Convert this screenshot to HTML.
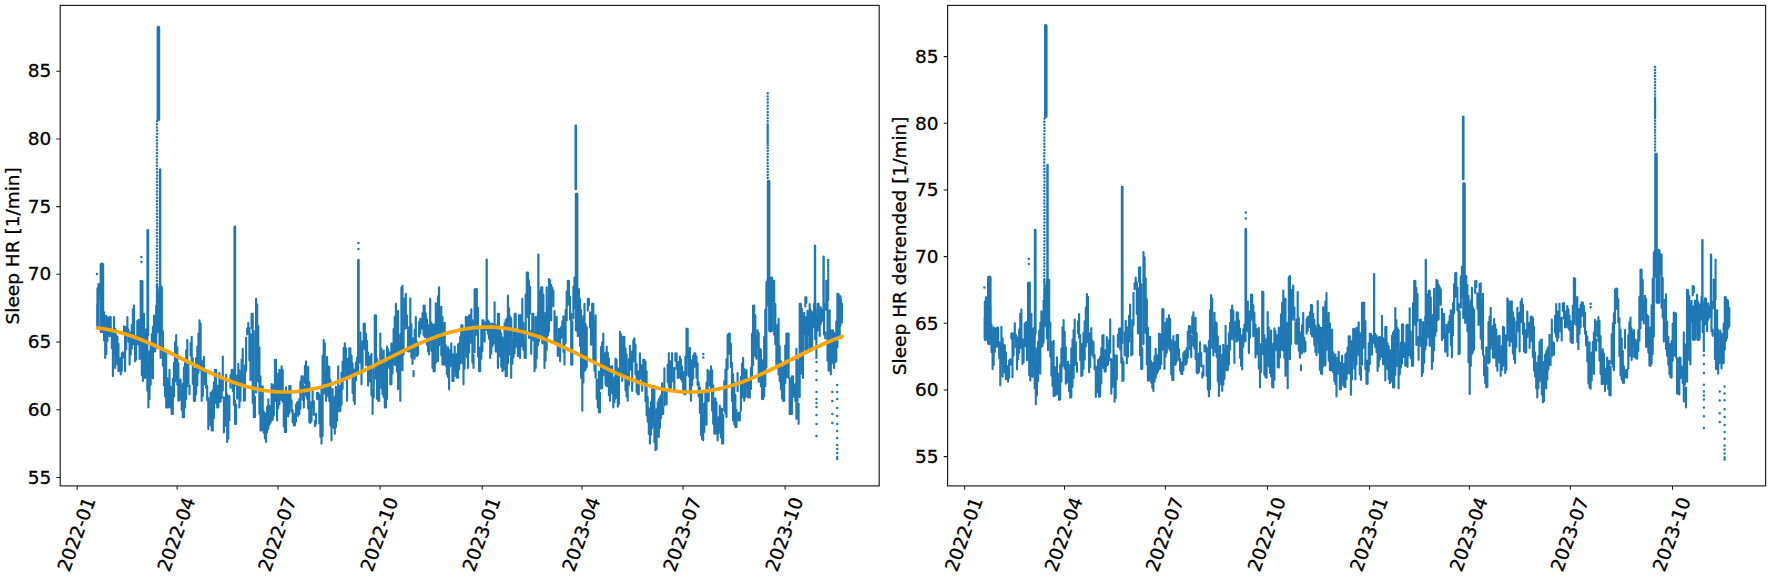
<!DOCTYPE html><html><head><meta charset="utf-8"><title>Sleep HR</title><style>html,body{margin:0;padding:0;background:#fff}svg{display:block}</style></head><body><svg width="1772" height="577" viewBox="0 0 1772 577" font-family="'DejaVu Sans','Liberation Sans',sans-serif" font-size="18.5" fill="#000"><rect width="1772" height="577" fill="#fff"/><g><path d="M97.4 304.5V325.1M98.5 284.1V299.7M99.6 284.4V292.3M100.7 286.2V293.3M101.8 288.1V300.8M102.9 294.7V327.1M104.1 312.4V340.5M105.2 324.2V358M106.3 315.9V354M107.4 318.3V340.9M108.5 317.5V334.3M109.6 317V336.2M110.7 317V334.7M111.8 332.2V348.2M112.9 333.3V376.1M114 317V353.5M115.2 329.1V367.9M116.3 335.4V358.1M117.4 336.7V364.3M118.5 344.1V371.2M119.6 359.4V369.7M120.7 358.1V374.4M121.8 353.2V370.7M122.9 352.4V357.8M124 326.4V331.6M125.1 327.1V371.2M126.2 327V349.5M127.4 317V332.7M128.5 329.5V341.7M129.6 338V364.6M130.7 332.5V354.6M131.8 325V348.4M132.9 309.3V343.9M134 305.5V344.4M135.1 336.1V361.3M136.2 339.7V359.6M137.3 321.1V343.4M138.5 319.8V344.6M139.6 323.1V359M140.7 280.8V340.9M141.8 324V375M142.9 340.4V381M144 313.7V364.9M145.1 334.7V378.1M146.2 329.2V370.3M147.3 329V390.6M148.4 364.4V407.4M149.5 351.2V399.1M150.7 344.8V384.7M151.8 334.3V367.8M152.9 326.7V378.3M154 315.5V351.4M155.1 320.9V351.4M156.2 305.5V348.2M157.3 305.6V332.4M158.4 292.7V330.1M159.5 289.1V345.6M160.6 294.9V358M161.8 287.4V334.2M162.9 331.2V365.6M164 351.4V385.4M165.1 365.9V396.5M166.2 351.3V407.4M167.3 378.3V407.4M168.4 382.3V407.4M169.5 369.7V404.1M170.6 386.7V407.6M171.7 394.1V414M172.8 378.9V414M174 362.8V396.4M175.1 342V381.4M176.2 335.1V376.8M177.3 347.3V384.8M178.4 363.5V400.8M179.5 381.6V400.1M180.6 379.5V396.9M181.7 392.2V409.9M182.8 383.8V417.2M183.9 367.8V417.2M185.1 359.2V407.4M186.2 350.3V398.9M187.3 340V386.3M188.4 363.6V383.2M189.5 385.2V394.2M190.6 343.4V355.7M191.7 336.7V360.7M192.8 358.5V383.8M193.9 369V400.8M195 368.6V400.8M196.1 358V394.3M197.3 346.7V385.6M198.4 333.7V372.7M199.5 320.3V339.1M200.6 323.7V369.9M201.7 360.8V400.8M202.8 372.9V396.1M203.9 356.9V378.8M205 370.7V384.6M206.1 372.6V387.9M207.2 385.9V400.3M208.3 398.1V429.1M209.5 403.1V417.5M210.6 392.9V425.4M211.7 392.4V430.4M212.8 390.2V430.4M213.9 382.2V417.9M215 369.7V392.6M216.1 369.7V403.2M217.2 392.9V407.4M218.3 385.8V407.4M219.4 373.1V402.1M220.6 381.3V401.4M221.7 377V397.9M222.8 356.5V390.4M223.9 397.3V432.5M225 406.7V425.9M226.1 374.8V409.4M227.2 394.5V441.9M228.3 418.2V438.6M229.4 396V420.2M230.5 375.2V387.8M231.6 369.7V381.1M232.8 369.7V390.9M233.9 383.7V405M235 400.6V423.8M236.1 404.7V423.8M237.2 375.4V398.6M238.3 363.8V382M239.4 370.5V407.4M240.5 380V400.8M241.6 359.8V386.2M242.7 348.8V379.4M243.9 375.6V400.8M245 365.5V400.1M246.1 337.7V370.8M247.2 328.5V334.5M248.3 322.9V331.5M249.4 328.3V360.3M250.5 334.2V380.2M251.6 313.7V327.9M252.7 313.7V402.9M253.8 331V417.2M254.9 396.8V417.2M256.1 298.9V392.4M257.2 304.5V360.2M258.3 326.3V381.6M259.4 347.5V413.6M260.5 376.6V430.4M261.6 418.1V430.4M262.7 386.3V427.5M263.8 411.5V432.7M264.9 414.5V438.5M266 413.3V441.9M267.2 406.7V432.3M268.3 399.3V428.8M269.4 405.8V424.8M270.5 408.1V422.8M271.6 384.1V420.5M272.7 384.9V419.7M273.8 392.9V415.6M274.9 359.8V401.3M276 359.8V396.7M277.1 384.9V420.5M278.2 373.8V408.2M279.4 369.7V404.2M280.5 376.9V396.5M281.6 366.4V400M282.7 370.1V401.9M283.8 391.8V426.4M284.9 416.3V432.1M286 387.4V432.1M287.1 395.3V413.9M288.2 393.2V416.6M289.3 386.1V413.3M290.5 386.1V403.8M291.6 400.6V411.4M292.7 410.2V422.3M293.8 414.4V425.5M294.9 413.8V425.5M296 404.5V421.5M297.1 402.6V409.8M298.2 401.9V416M299.3 399.1V414M300.4 381.8V408.7M301.5 376.2V390.4M302.7 376.2V399.8M303.8 385.7V407.4M304.9 366V383M306 361.4V395.6M307.1 379.1V398.3M308.2 366.9V408.6M309.3 382.2V422.2M310.4 417.7V422.9M311.5 402.4V421.1M312.6 390.8V407.1M313.8 401.3V415M314.9 421V426.2M316 413.8V423.8M317.1 392.7V399.2M318.2 392.7V398.1M319.3 394.8V423.5M320.4 398.9V436.7M321.5 387V443.6M322.6 355.9V435.9M323.7 340V375.2M324.8 343.3V393.5M326 372.1V400.8M327.1 357.1V385.5M328.2 366.4V396.5M329.3 367V401.1M330.4 380.1V425.3M331.5 403.5V440.3M332.6 389.1V424.8M333.7 409.2V427.8M334.8 396.8V433.8M335.9 386.7V427.1M337.1 391.5V420.7M338.2 366.4V404.8M339.3 387.4V411.3M340.4 385.9V410.7M341.5 372.8V404.8M342.6 361.8V388.9M343.7 348V377.9M344.8 343.3V368.6M345.9 348.3V377.5M347 365.9V400.8M348.1 358.5V373.4M349.3 348.3V378.3M350.4 348.3V376.2M351.5 355.9V375.5M352.6 363.5V393.1M353.7 369.7V400.8M354.8 369.8V404.1M355.9 362.5V380.5M357 357.7V373.7M358.1 351.8V373.9M359.2 346.6V362.1M360.4 332.5V362.7M361.5 347V384.3M362.6 341.3V368.2M363.7 323.8V345.4M364.8 323.6V349.1M365.9 333.7V365.1M367 340.7V358.6M368.1 352.6V385.6M369.2 356.5V381.1M370.3 356.5V381.3M371.4 353.8V395.3M372.6 390.3V414M373.7 369V397.5M374.8 315.3V366.7M375.9 315.3V378.7M377 358.8V398.8M378.1 368.2V400.8M379.2 361.7V400.8M380.3 333.5V375.9M381.4 348.6V388.1M382.5 357.2V394.2M383.7 350.6V397.2M384.8 366.7V407.4M385.9 362.9V407.4M387 346.6V398.9M388.1 349.3V364.2M389.2 352.3V367.9M390.3 353V384.3M391.4 343.6V384.3M392.5 344.7V373.5M393.6 329.1V355.7M394.7 316.8V364.8M395.9 303.8V364.9M397 311.3V371.8M398.1 311.1V389.3M399.2 343.2V378.9M400.3 334.4V400.8M401.4 287.7V361.3M402.5 285.7V370.3M403.6 329.6V354.5M404.7 298.6V329M405.8 293.9V324.6M407 315.6V328.4M408.1 330.3V351.4M409.2 327V351.4M410.3 298.4V345.4M411.4 324.4V357.5M412.5 338.2V364M413.6 371V376.2M414.7 329.9V358.7M415.8 317V345M416.9 341.6V356M418 345.5V354.7M419.2 321.9V336.6M420.3 318.9V333.3M421.4 319.5V328.6M422.5 313.4V328.4M423.6 305.5V334.9M424.7 305.5V336.9M425.8 313.6V336.5M426.9 319.2V344.8M428 324.9V351.4M429.1 328.5V354.4M430.2 298.9V341M431.4 322.5V350.8M432.5 325V367.9M433.6 324.6V371.2M434.7 324.8V371.2M435.8 303.2V363M436.9 313.7V330.7M438 296.4V361.3M439.1 287.4V345.4M440.2 312.4V337.9M441.3 306.9V355.3M442.5 317.2V364.6M443.6 327.5V364.6M444.7 322.7V363.8M445.8 345.6V365.7M446.9 351V374.2M448 347.2V377M449.1 356.4V389.3M450.2 349.8V366.2M451.3 343.3V357.6M452.4 354V381M453.5 355V381M454.7 346.6V370.7M455.8 356.6V375.9M456.9 354.1V377.7M458 344.5V377.7M459.1 343.2V369.4M460.2 336.9V363.4M461.3 325.2V338.2M462.4 325.2V363.1M463.5 341V384.3M464.6 329.5V368.4M465.8 317V348.8M466.9 317V357.2M468 319.3V367.9M469.1 315.3V352.5M470.2 315.3V336.2M471.3 309.4V342.8M472.4 320.3V362.5M473.5 354.7V367.9M474.6 289.5V352.2M475.7 289V335.2M476.8 289V333.3M478 307.9V356.4M479.1 347.6V371.2M480.2 347.9V371.2M481.3 329.9V358.7M482.4 320.3V350.9M483.5 320.3V328.1M484.6 322.8V341.4M485.7 322.4V327.6M486.8 321.2V329.9M487.9 320.3V333.6M489.1 322.1V338.7M490.2 334.6V358M491.3 323.7V353.5M492.4 323.6V346.5M493.5 325.2V343.8M494.6 302.2V336.7M495.7 325.1V351.4M496.8 329.4V351.4M497.9 313.7V367.9M499 313.7V343.4M500.1 330.1V356.6M501.3 333.5V366.7M502.4 337.6V371.2M503.5 343.2V369.7M504.6 323.3V353M505.7 320.1V376.1M506.8 318.6V376.1M507.9 295.6V363.4M509 308.2V354.9M510.1 316.3V334.9M511.2 318.5V377.7M512.4 340.9V363.7M513.5 331.9V357.1M514.6 313.7V353.2M515.7 313.7V347M516.8 332.9V345.8M517.9 337.2V356.2M519 315.4V343.3M520.1 315.1V358M521.2 316.3V346.4M522.3 298.9V343.3M523.4 322.9V349.9M524.6 341.5V358M525.7 294.5V358M526.8 272.5V314.9M527.9 272.5V317.3M529 280.2V338M530.1 286.8V313.7M531.2 330.7V353.8M532.3 313.7V334.3M533.4 313.7V340.4M534.5 333.3V371.2M535.7 316.9V368M536.8 323.8V358.5M537.9 312.4V345.4M539 305V341.3M540.1 290.7V320.5M541.2 287.4V334.5M542.3 287.4V343.5M543.4 294.8V329.5M544.5 317.1V367.9M545.6 313.1V360.6M546.7 287.4V349.7M547.9 307.7V335.3M549 279.1V331.5M550.1 280.4V320.5M551.2 285V320.2M552.3 287.7V298.7M553.4 290.7V306.3M554.5 311V342.5M555.6 317V337M556.7 317V341.6M557.8 338.6V355.9M559 328.8V354.4M560.1 331.2V361.3M561.2 327.1V337.7M562.3 321.4V329M563.4 316.3V351.8M564.5 324V364.6M565.6 310V343M566.7 291.5V320.5M567.8 280.8V305.1M568.9 280.8V302.1M570 296.5V319.6M571.2 313.7V364.6M572.3 321.5V364.6M573.4 286.9V318.5M574.5 277.5V308.2M575.6 277.5V301M576.7 285.4V313.6M577.8 290.9V336.2M578.9 289.1V334.7M580 298.8V345.9M581.1 310.1V377.8M582.3 320.6V410.7M583.4 316.2V382.6M584.5 303.8V371M585.6 324.2V369.7M586.7 327.1V367.5M587.8 298.9V310.6M588.9 298.9V305.2M590 312.3V327.6M591.1 313.6V344.8M592.2 303.8V342.2M593.3 303.8V360M594.5 321.2V370.7M595.6 315.4V377.5M596.7 379.2V398.8M597.8 391.3V407.2M598.9 371.6V412.3M600 392.8V412.3M601.1 346.8V388.8M602.2 342.2V388M603.3 333.5V375.4M604.4 355V371.5M605.6 352.8V384.8M606.7 346.6V386.2M607.8 352.7V384.8M608.9 358.3V395.2M610 378.9V400.8M611.1 366.4V388.5M612.2 366.4V393.4M613.3 381.7V407.4M614.4 377.6V402.2M615.5 358.6V398.6M616.6 359.9V397.1M617.8 368.3V406.7M618.9 369.4V404.1M620 331.8V374.6M621.1 334.6V364.6M622.2 345.8V381M623.3 336.7V376.2M624.4 336.7V377.7M625.5 348.4V390.3M626.6 354.4V396.5M627.7 373.6V400.8M628.9 359.4V385M630 345.7V362M631.1 354.6V370.2M632.2 351.6V390.9M633.3 340.6V361.5M634.4 338.4V359.3M635.5 344.7V374.5M636.6 363.9V392.1M637.7 372.8V394.2M638.8 371.3V394.2M639.9 353.2V379.1M641.1 365V374.3M642.2 367.4V390.9M643.3 359.8V384.6M644.4 359.8V381.7M645.5 361.7V401.2M646.6 371.2V415.2M647.7 397.4V421.7M648.8 408.2V434M649.9 418.1V443.6M651 402.3V434.7M652.1 388.4V428.1M653.3 386.1V425.2M654.4 386.1V442M655.5 423V450.2M656.6 409.2V449.2M657.7 402.6V421M658.8 399.5V437M659.9 397.4V428M661 395.4V418.2M662.1 383.2V414M663.2 407.3V414M664.4 368.2V405.5M665.5 391.1V396.3M666.6 392.5V404.4M667.7 364.9V382.1M668.8 353.2V386.4M669.9 361.4V391M671 361.5V387.6M672.1 353.2V367.9M673.2 369.2V381.6M674.3 367.7V390.9M675.4 353.2V361M676.6 353.2V369M677.7 365.8V378.1M678.8 361.9V377.7M679.9 356.5V373.7M681 359.9V379.2M682.1 366.5V381.6M683.2 372.1V392.7M684.3 379.8V394.2M685.4 356.7V394.2M686.5 328.5V375.1M687.7 329.1V357.2M688.8 351.3V376.3M689.9 347.8V393.5M691 369.9V400.8M692.1 360V385.3M693.2 355.8V378.4M694.3 353.2V367M695.4 353.2V365M696.5 356.8V377.7M697.6 363.3V384.9M698.7 382.5V396.5M699.9 387.5V413M701 404.3V435M702.1 393.2V439.1M703.2 416V440.3M704.3 403.5V431.9M705.4 392.5V413.3M706.5 382.7V424.8M707.6 369.7V400.9M708.7 389.6V400.8M709.8 371.2V385.7M711 366.4V390.9M712.1 370.4V410.5M713.2 385.6V423.8M714.3 403.5V433.7M715.4 398.4V433.7M716.5 402.6V432.8M717.6 424.2V440.3M718.7 417.3V433.1M719.8 405.9V428.3M720.9 411.1V437.4M722 408.5V443.4M723.2 415V443.6M724.3 381.1V410.7M725.4 369.7V413.5M726.5 359.3V417.1M727.6 335.1V369.4M728.7 333.5V353.5M729.8 333.5V354.1M730.9 343.7V367.1M732 362.7V401M733.1 374V420.3M734.3 382.5V424.3M735.4 395V427.1M736.5 410V427.1M737.6 373V391.2M738.7 413V420.5M739.8 412.3V420.5M740.9 377.1V410.7M742 363.8V397.6M743.1 358.1V372.9M744.2 369V400.8M745.3 373V397.3M746.5 369.7V386.6M747.6 378.5V396.7M748.7 381.5V397.5M749.8 378.7V397.5M750.9 368.1V389.1M752 333.8V378.3M753.1 305.5V365.1M754.2 305.5V340.4M755.3 315.3V355.9M756.4 336.2V358.8M757.6 330.2V345.6M758.7 333.1V381.8M759.8 348.8V379.9M760.9 349.9V386.2M762 371.2V399.1M763.1 360.1V399.1M764.2 337V396.4M765.3 309.7V386M766.4 282.3V367.5M767.5 279.8V302.2M768.6 278.7V306.1M769.8 280.9V304.4M770.9 277.5V294.2M772 277.5V295.6M773.1 280.8V300.7M774.2 280.8V334.7M775.3 304V344.2M776.4 340.1V367.9M777.5 325V359.3M778.6 318.8V374.4M779.7 346.4V380.8M780.9 361V389.2M782 368.3V398.4M783.1 367.4V400.8M784.2 363.6V400.8M785.3 345.5V383.3M786.4 333.5V377.3M787.5 333.5V343M788.6 333.5V377.7M789.7 378.3V414M790.8 398.6V414M791.9 376.4V414M793.1 376.2V396.8M794.2 384.8V394.6M795.3 384.2V400.8M796.4 348.7V418.8M797.5 360.2V401.3M798.6 403.5V423.8M799.7 303.8V397.1M800.8 303.8V359.4M801.9 308.9V373.8M803 317.4V377.9M804.2 312.8V333.9M805.3 297.2V306.5M806.4 297.2V302.8M807.5 310.9V330.7M808.6 318.5V334.9M809.7 304V331.9M810.8 310.4V331.5M811.9 322V344.8M813 312V327.6M814.1 303.8V324.8M815.2 308.5V339.2M816.4 316.6V358M817.5 303.8V330.6M818.6 303.8V326.7M819.7 318.1V336M820.8 307.3V324M821.9 310.8V321.2M823 309.7V314.9M824.1 303.8V334.4M825.2 332.2V338.3M826.3 280.8V310M827.5 280.8V360.8M828.6 340.3V370.7M829.7 310.3V370.1M830.8 330V374.4M831.9 349.8V363.4M833 330.2V351.5M834.1 332.7V367.9M835.2 339.3V362.2M836.3 321.6V361.2M837.4 293.9V347.3M838.5 293.9V337.9M839.7 305.3V334.8M840.8 300V310.3M841.9 303.5V322.4" fill="none" stroke="#1f77b4" stroke-width="2.15" stroke-linecap="round"/><path d="M158.4 27.6V119.5" stroke="#1f77b4" stroke-width="3.6" stroke-linecap="round"/><path d="M160.1 169.6V290" stroke="#1f77b4" stroke-width="2.5" stroke-linecap="round"/><path d="M160.4 286.8V330" stroke="#1f77b4" stroke-width="3.6" stroke-linecap="round"/><path d="M147.8 230.4V335" stroke="#1f77b4" stroke-width="2.8" stroke-linecap="round"/><path d="M142.2 281.3V330" stroke="#1f77b4" stroke-width="2.6" stroke-linecap="round"/><path d="M234.8 226.9V385" stroke="#1f77b4" stroke-width="2.8" stroke-linecap="round"/><path d="M358.4 260.2V350" stroke="#1f77b4" stroke-width="2.7" stroke-linecap="round"/><path d="M575.8 125.9V189" stroke="#1f77b4" stroke-width="2.7" stroke-linecap="round"/><path d="M576.6 194.3V330" stroke="#1f77b4" stroke-width="3.6" stroke-linecap="round"/><path d="M768.6 181.5V282" stroke="#1f77b4" stroke-width="3.6" stroke-linecap="round"/><path d="M770.6 281.5V330" stroke="#1f77b4" stroke-width="5.0" stroke-linecap="round"/><path d="M815 245.8V320" stroke="#1f77b4" stroke-width="2.4" stroke-linecap="round"/><path d="M823.6 256.7V320" stroke="#1f77b4" stroke-width="2.4" stroke-linecap="round"/><path d="M98 288.6V327" stroke="#1f77b4" stroke-width="3.2" stroke-linecap="round"/><path d="M101.9 264.8V331" stroke="#1f77b4" stroke-width="4.6" stroke-linecap="round"/><path d="M486.7 259.6V320" stroke="#1f77b4" stroke-width="2.3" stroke-linecap="round"/><path d="M538.4 254.7V315" stroke="#1f77b4" stroke-width="2.3" stroke-linecap="round"/><path d="M806.5 318.2V350" stroke="#1f77b4" stroke-width="4.5" stroke-linecap="round"/><path d="M811 316.2V348" stroke="#1f77b4" stroke-width="4.5" stroke-linecap="round"/><path d="M839.8 296.8V325" stroke="#1f77b4" stroke-width="3.6" stroke-linecap="round"/><path d="M157.1 121h0M156.9 124.2h0M156.9 127.4h0M157.1 130.6h0M157.1 133.8h0M156.9 137h0M157 140.2h0M157 143.4h0M156.9 146.6h0M157 149.8h0M157 153h0M156.9 156.2h0M156.9 159.4h0M156.9 162.6h0M156.9 165.8h0M156.9 169h0M157 172.2h0M157.1 175.4h0M156.9 178.6h0M157.1 181.8h0M157.1 185h0M157 188.2h0M157 191.4h0M156.9 194.6h0M157.1 197.8h0M157 201h0M156.9 204.2h0M156.9 207.4h0M157.1 210.6h0M157 213.8h0M157.1 217h0M156.9 220.2h0M157.1 223.4h0M157.1 226.6h0M156.9 229.8h0M157 233h0M156.9 236.2h0M157.1 239.4h0M157.1 242.6h0M157.1 245.8h0M156.9 249h0M156.9 252.2h0M157 255.4h0M157 258.6h0M156.9 261.8h0M156.9 265h0M157 268.2h0M156.9 271.4h0M157 274.6h0M156.9 277.8h0M156.9 281h0M157 284.2h0M157 287.4h0M157.1 290.6h0M156.9 293.8h0M157.1 297h0M156.9 285h0M156.9 286.6h0M157.1 288.2h0M157.1 289.8h0M157 291.4h0M157.2 293h0M156.9 294.6h0M156.9 296.2h0M157.1 297.8h0M156.9 299.4h0M156.9 301h0M156.9 302.6h0M157.1 304.2h0M157.1 305.8h0M157.1 307.4h0M157.2 309h0M157.1 310.6h0M156.9 312.2h0M156.9 313.8h0M157.1 315.4h0M156.8 317h0M157 318.6h0M156.8 320.2h0M156.8 321.8h0M157 323.4h0M156.9 325h0M157.2 326.6h0M157.2 328.2h0M157 329.8h0M141.4 257h0M141.4 262h0M358.4 243h0M358.4 249h0M97 274h0M767.7 93.3h0M767.7 96.4h0M767.7 99.5h0M767.7 102.6h0M767.7 105.7h0M767.7 108.8h0M767.7 111.9h0M767.7 115h0M767.7 118.1h0M767.7 121.2h0M767.7 124.3h0M767.7 126h0M767.7 127.6h0M767.7 129.2h0M767.7 130.8h0M767.7 132.4h0M767.7 134h0M767.7 135.6h0M767.7 137.2h0M767.7 138.8h0M767.7 140.4h0M767.7 142h0M767.7 143.6h0M767.7 145.2h0M767.7 148h0M767.7 151h0M767.7 154h0M767.7 157h0M767.7 160h0M767.7 163h0M767.7 166h0M767.7 169h0M767.7 172h0M767.7 175h0M767.7 178h0M828.2 260h0M828.2 262.2h0M828.2 264.4h0M828.2 266.6h0M828.2 268.8h0M828.2 271h0M828.2 273.2h0M828.2 275.4h0M828.2 277.6h0M828.2 279.8h0M828.2 282h0M828.2 284.2h0M828.2 286.4h0M828.2 288.6h0M828.2 290.8h0M828.2 293h0M828.2 295.2h0M828.2 297.4h0M828.2 299.6h0M816.5 362h0M816.5 371h0M816.5 380h0M816.5 392h0M816.5 399h0M816.5 403h0M816.5 407h0M816.5 415h0M816.5 424h0M816.5 436h0M837.2 385h0M837.2 392h0M837.2 399h0M837.2 408h0M837.2 416h0M837.2 424h0M837.2 431h0M837.2 438h0M837.2 445h0M837.2 449h0M837.2 453h0M837.2 457h0M837.2 459h0M832.3 392h0M832.3 401h0M832.3 414h0M832.3 423h0M703.3 354h0M703.3 357.5h0" stroke="#1f77b4" stroke-width="2.5" stroke-linecap="round" fill="none"/><path d="M97.4 328L100.4 328.3L103.4 328.8L106.4 329.3L109.4 329.9L112.4 330.6L115.4 331.3L118.4 332L121.4 332.9L124.4 333.8L127.4 334.7L130.4 335.7L133.4 336.8L136.4 337.9L139.4 339L142.4 340.2L145.4 341.5L148.4 342.7L151.4 344L154.4 345.4L157.4 346.8L160.4 348.2L163.4 349.6L166.4 351L169.4 352.5L172.4 354L175.4 355.5L178.4 357L181.4 358.5L184.4 360L187.4 361.5L190.4 363L193.4 364.5L196.4 366L199.4 367.5L202.4 368.9L205.4 370.4L208.4 371.8L211.4 373.2L214.4 374.5L217.4 375.9L220.4 377.1L223.4 378.4L226.4 379.6L229.4 380.8L232.4 381.9L235.4 383L238.4 384L241.4 385L244.4 385.9L247.4 386.7L250.4 387.5L253.4 388.3L256.4 388.9L259.4 389.6L262.4 390.1L265.4 390.6L268.4 391L271.4 391.3L274.4 391.6L277.4 391.8L280.4 392L283.4 392L286.4 392L289.4 392L292.4 391.8L295.4 391.6L298.4 391.3L301.4 391L304.4 390.6L307.4 390.1L310.4 389.5L313.4 388.9L316.4 388.2L319.4 387.5L322.4 386.7L325.4 385.8L328.4 384.9L331.4 383.9L334.4 382.9L337.4 381.8L340.4 380.7L343.4 379.5L346.4 378.3L349.4 377.1L352.4 375.8L355.4 374.4L358.4 373.1L361.4 371.7L364.4 370.3L367.4 368.8L370.4 367.4L373.4 365.9L376.4 364.4L379.4 362.9L382.4 361.4L385.4 359.9L388.4 358.4L391.4 356.9L394.4 355.4L397.4 353.9L400.4 352.4L403.4 350.9L406.4 349.5L409.4 348.1L412.4 346.7L415.4 345.3L418.4 343.9L421.4 342.6L424.4 341.4L427.4 340.1L430.4 338.9L433.4 337.8L436.4 336.7L439.4 335.6L442.4 334.7L445.4 333.7L448.4 332.8L451.4 332L454.4 331.2L457.4 330.5L460.4 329.9L463.4 329.3L466.4 328.8L469.4 328.3L472.4 327.9L475.4 327.6L478.4 327.4L481.4 327.2L484.4 327.1L487.4 327.1L490.4 327.1L493.4 327.2L496.4 327.4L499.4 327.6L502.4 327.9L505.4 328.3L508.4 328.8L511.4 329.3L514.4 329.9L517.4 330.5L520.4 331.2L523.4 332L526.4 332.8L529.4 333.7L532.4 334.7L535.4 335.6L538.4 336.7L541.4 337.8L544.4 338.9L547.4 340.1L550.4 341.4L553.4 342.6L556.4 343.9L559.4 345.3L562.4 346.7L565.4 348.1L568.4 349.5L571.4 350.9L574.4 352.4L577.4 353.9L580.4 355.4L583.4 356.9L586.4 358.4L589.4 359.9L592.4 361.4L595.4 362.9L598.4 364.4L601.4 365.9L604.4 367.4L607.4 368.8L610.4 370.3L613.4 371.7L616.4 373.1L619.4 374.4L622.4 375.8L625.4 377.1L628.4 378.3L631.4 379.5L634.4 380.7L637.4 381.8L640.4 382.9L643.4 383.9L646.4 384.9L649.4 385.8L652.4 386.7L655.4 387.5L658.4 388.2L661.4 388.9L664.4 389.5L667.4 390.1L670.4 390.6L673.4 391L676.4 391.3L679.4 391.6L682.4 391.8L685.4 392L688.4 392L691.4 392L694.4 392L697.4 391.8L700.4 391.6L703.4 391.3L706.4 391L709.4 390.6L712.4 390.1L715.4 389.6L718.4 388.9L721.4 388.3L724.4 387.5L727.4 386.7L730.4 385.9L733.4 385L736.4 384L739.4 383L742.4 381.9L745.4 380.8L748.4 379.6L751.4 378.4L754.4 377.1L757.4 375.9L760.4 374.5L763.4 373.2L766.4 371.8L769.4 370.4L772.4 368.9L775.4 367.5L778.4 366L781.4 364.5L784.4 363L787.4 361.5L790.4 360L793.4 358.5L796.4 357L799.4 355.5L802.4 354L805.4 352.5L808.4 351L811.4 349.6L814.4 348.2L817.4 346.8L820.4 345.4L823.4 344L826.4 342.7L829.4 341.5L832.4 340.2L835.4 339L838.4 337.9L841.4 336.8L842.2 336.5" fill="none" stroke="#ffa500" stroke-width="3.7" stroke-linecap="round" stroke-linejoin="round"/></g><g><path d="M984.8 317.5V337.8M985.9 297.3V312.6M987 297.4V305.2M988.1 299.1V306.1M989.2 300.7V313.3M990.3 307.1V339M991.5 324.3V352M992.6 335.7V369.1M993.7 327.4V365M994.8 329.6V351.8M995.9 328.6V345.1M997 327.8V346.8M998.1 327.6V345.1M999.2 342.3V358.1M1000.3 343.2V385.3M1001.4 326.9V362.8M1002.6 338.5V376.7M1003.7 344.5V366.8M1004.8 345.5V372.6M1005.9 352.5V379.2M1007 367.3V377.4M1008.1 365.7V381.7M1009.2 360.5V377.7M1010.3 359.3V364.7M1011.4 333.4V338.5M1012.5 333.8V377.2M1013.6 333.4V355.5M1014.8 323.2V338.7M1015.9 335.1V347.2M1017 343.1V369.3M1018.1 337.3V359.1M1019.2 329.6V352.6M1020.3 313.7V347.8M1021.4 309.6V347.9M1022.5 339.4V364.1M1023.6 342.5V362M1024.7 323.8V345.6M1025.9 322V346.5M1027 324.9V360.2M1028.1 282.8V342M1029.2 324.9V375.1M1030.3 340.6V380.6M1031.4 313.8V364.3M1032.5 334.1V376.8M1033.6 328.2V368.7M1034.7 327.5V388.2M1035.8 361.9V404.2M1036.9 348.4V395.6M1038.1 341.7V381M1039.2 330.9V363.8M1040.3 322.9V373.7M1041.4 311.4V346.7M1042.5 316.2V346.2M1043.6 300.5V342.6M1044.7 300.1V326.5M1045.8 286.9V323.7M1046.9 282.9V338.5M1048 288V350.2M1049.2 280.1V326.2M1050.3 322.7V356.7M1051.4 342.1V375.6M1052.5 355.9V386M1053.6 340.9V396.2M1054.7 367V395.6M1055.8 370.4V395.1M1056.9 357.4V391.4M1058 373.6V394.3M1059.1 380.4V400M1060.2 364.9V399.4M1061.4 348.5V381.6M1062.5 327.5V366.3M1063.6 320.1V361.2M1064.7 331.7V368.5M1065.8 347V383.7M1066.9 364.3V382.5M1068 361.7V378.8M1069.1 373.7V391.1M1070.2 364.8V397.7M1071.3 348.5V397.2M1072.5 339.5V387M1073.6 330.2V378.1M1074.7 319.5V365.1M1075.8 342.2V361.5M1076.9 362.9V371.8M1078 321.2V333.3M1079.1 314.1V337.7M1080.2 335V359.9M1081.3 344.7V376.1M1082.4 343.8V375.5M1083.5 332.8V368.6M1084.7 321.2V359.4M1085.8 307.9V346.3M1086.9 294.1V312.6M1088 296.9V342.4M1089.1 333V372.3M1090.2 344.3V367.2M1091.3 328V349.6M1092.4 341.1V354.8M1093.5 342.4V357.5M1094.6 355.1V369.2M1095.8 366.5V397M1096.9 370.9V385.1M1098 360.4V392.4M1099.1 359.4V396.8M1100.2 356.7V396.3M1101.3 348.4V383.5M1102.4 335.5V358.2M1103.5 335.1V368.1M1104.6 357.4V371.7M1105.7 350V371.2M1106.8 337V365.6M1108 344.6V364.5M1109.1 340V360.5M1110.2 319.3V352.7M1111.3 359V393.7M1112.4 367.8V386.8M1113.5 336V370.1M1114.6 354.9V401.7M1115.7 377.9V398M1116.8 355.6V379.4M1117.9 334.7V347.1M1119 328.8V340.1M1120.2 328.4V349.4M1121.3 341.9V362.8M1122.4 358.1V381M1123.5 361.8V380.6M1124.6 332.5V355.4M1125.7 320.7V338.6M1126.8 327V363.4M1127.9 336V356.5M1129 315.7V341.7M1130.1 304.6V334.7M1131.3 330.6V355.4M1132.4 320.3V354.4M1133.5 292.7V325.3M1134.6 283.3V289.2M1135.7 277.5V286M1136.8 282.5V314M1137.9 288.1V333.4M1139 267.6V281.6M1140.1 267.3V355.2M1141.2 284.1V369M1142.3 348.6V368.8M1143.5 252V344.1M1144.6 257.3V312.1M1145.7 278.5V332.9M1146.8 299.2V364.3M1147.9 327.7V380.6M1149 368.3V380.4M1150.1 336.8V377.3M1151.2 361.4V382.3M1152.3 364.3V387.8M1153.4 362.9V391.1M1154.6 356.2V381.5M1155.7 348.8V377.9M1156.8 355V373.8M1157.9 357.2V371.6M1159 333.5V369.3M1160.1 334.1V368.4M1161.2 341.9V364.2M1162.3 309.2V350M1163.4 309.1V345.5M1164.5 333.8V368.9M1165.6 322.8V356.7M1166.8 318.7V352.7M1167.9 325.7V345.1M1169 315.4V348.5M1170.1 319V350.3M1171.2 340.3V374.4M1172.3 364.5V380M1173.4 336V380M1174.5 343.8V362.2M1175.6 341.8V364.8M1176.7 334.8V361.6M1177.9 334.9V352.3M1179 349.2V359.9M1180.1 358.7V370.7M1181.2 363V373.8M1182.3 362.4V373.9M1183.4 353.4V370.1M1184.5 351.6V358.6M1185.6 351V364.9M1186.7 348.4V363M1187.8 331.5V357.9M1188.9 326.1V340M1190.1 326.3V349.5M1191.2 335.7V357.1M1192.3 316.5V333.2M1193.4 312.2V345.8M1194.5 329.8V348.6M1195.6 317.9V359M1196.7 333.2V372.6M1197.8 368.4V373.5M1198.9 353.5V372M1200 342.3V358.3M1201.2 352.9V366.4M1202.3 372.5V377.6M1203.4 365.6V375.6M1204.5 345.2V351.6M1205.6 345.4V350.8M1206.7 347.8V376M1207.8 352.1V389.3M1208.9 340.7V396.4M1210 310.3V389.2M1211.1 295V329.7M1212.2 298.6V348M1213.4 327.2V355.5M1214.5 312.8V340.8M1215.6 322.3V352M1216.7 323.2V356.8M1217.8 336.5V381.1M1218.9 359.9V396.1M1220 346.1V381.3M1221.1 366.2V384.5M1222.2 354.5V390.9M1223.3 344.9V384.7M1224.5 350V378.8M1225.6 325.7V363.5M1226.7 346.7V370.3M1227.8 345.7V370.1M1228.9 333.3V364.7M1230 322.9V349.5M1231.1 309.7V339.1M1232.2 305.5V330.4M1233.3 310.8V339.6M1234.4 328.6V363M1235.5 321.8V336.5M1236.7 312.2V341.7M1237.8 312.6V340.2M1238.9 320.6V339.9M1240 328.6V357.7M1241.1 335.2V365.8M1242.2 335.7V369.5M1243.3 329V346.8M1244.4 324.9V340.6M1245.5 319.5V341.3M1246.6 314.9V330.2M1247.8 301.6V331.3M1248.9 316.3V353.1M1250 311.2V337.7M1251.1 294.5V315.7M1252.2 294.8V319.9M1253.3 305.3V336.2M1254.4 312.7V330.3M1255.5 324.9V357.4M1256.6 329.3V353.5M1257.7 329.8V354.3M1258.8 327.7V368.6M1260 364.2V387.5M1261.1 343.7V371.8M1262.2 291.5V342M1263.3 292V354.4M1264.4 335.3V374.7M1265.5 345.2V377.2M1266.6 339.3V377.8M1267.7 312V353.8M1268.8 327.5V366.4M1269.9 336.5V372.9M1271.1 330.5V376.4M1272.2 347V387M1273.3 343.8V387.6M1274.4 328.3V379.8M1275.5 331.4V346.1M1276.6 335V350.3M1277.7 336.2V367.1M1278.8 327.5V367.6M1279.9 329.2V357.5M1281 314.3V340.6M1282.1 302.8V350M1283.3 290.5V350.7M1284.4 298.5V358M1285.5 298.8V375.8M1286.6 331V366.1M1287.7 322.9V388.2M1288.8 277.4V349.9M1289.9 275.9V359.2M1291 319.6V344.2M1292.1 289.7V319.6M1293.2 285.6V315.8M1294.4 307.5V320.1M1295.5 322.5V343.3M1296.6 319.8V343.8M1297.7 292.1V338.4M1298.8 318.2V350.8M1299.9 332.3V357.7M1301 365.2V370.3M1302.1 325.2V353.5M1303.2 312.9V340.5M1304.3 337.7V351.8M1305.4 341.9V351M1306.6 319.2V333.7M1307.7 316.7V330.9M1308.8 317.8V326.7M1309.9 312.3V327M1311 304.9V333.9M1312.1 305.4V336.3M1313.2 313.8V336.4M1314.3 319.8V345M1315.4 325.8V351.9M1316.5 329.9V355.3M1317.7 301.1V342.6M1318.8 324.7V352.6M1319.9 327.6V369.9M1321 327.7V373.5M1322.1 328.3V373.9M1323.2 307.4V366.3M1324.3 318.1V334.8M1325.4 301.5V365.4M1326.5 293V350.1M1327.6 318V343.1M1328.7 312.9V360.6M1329.9 323.5V370.1M1331 334V370.4M1332.1 329.6V370M1333.2 352.4V372.2M1334.3 358.1V381M1335.4 354.6V384M1336.5 364V396.4M1337.6 357.9V374M1338.7 351.7V365.8M1339.8 362.5V389.2M1340.9 363.8V389.4M1342.1 355.8V379.5M1343.2 365.9V384.9M1344.3 363.7V387M1345.4 354.5V387.2M1346.5 353.4V379.3M1347.6 347.5V373.6M1348.7 336.2V349M1349.8 336.4V373.8M1350.9 352.2V394.8M1352 341V379.4M1353.2 328.9V360.2M1354.3 329.1V368.6M1355.4 331.5V379.3M1356.5 327.8V364.4M1357.6 327.9V348.5M1358.7 322.2V355.1M1359.8 333.1V374.6M1360.9 367V380M1362 303V364.7M1363.1 302.6V348.1M1364.2 302.7V346.3M1365.4 321.4V369.2M1366.5 360.5V383.8M1367.6 361V383.8M1368.7 343.2V371.6M1369.8 333.8V364M1370.9 333.9V341.5M1372 336.4V354.7M1373.1 336V341.1M1374.2 334.9V343.4M1375.3 333.9V347.1M1376.5 335.7V352M1377.6 348V371M1378.7 337.2V366.6M1379.8 337.1V359.6M1380.9 338.7V356.9M1382 315.9V349.9M1383.1 338.4V364.3M1384.2 342.6V364.2M1385.3 327V380.4M1386.4 326.9V356.1M1387.5 343V369.1M1388.7 346.2V378.9M1389.8 350.1V383.2M1390.9 355.5V381.6M1392 335.8V365M1393.1 332.5V387.6M1394.2 330.8V387.5M1395.3 308V374.8M1396.4 320.3V366.2M1397.5 328V346.4M1398.6 330V388.4M1399.8 351.9V374.3M1400.9 342.8V367.6M1402 324.6V363.5M1403.1 324.4V357.2M1404.2 343.1V355.8M1405.3 347.1V365.8M1406.4 325.4V352.9M1407.5 324.8V367M1408.6 325.8V355.4M1409.7 308.3V352M1410.8 331.6V358.2M1412 349.7V365.9M1413.1 303.1V365.6M1414.2 281.1V322.9M1415.3 280.8V324.8M1416.4 288.1V344.9M1417.5 294.2V320.7M1418.6 337.1V359.8M1419.7 320V340.3M1420.8 319.6V345.9M1421.9 338.6V375.9M1423.1 322V372.4M1424.2 328.5V362.7M1425.3 316.8V349.4M1426.4 309.2V345M1427.5 294.7V324.1M1428.6 291V337.5M1429.7 290.6V345.8M1430.8 297.5V331.7M1431.9 319V369M1433 314.7V361.4M1434.1 288.9V350.3M1435.3 308.5V335.7M1436.4 279.9V331.5M1437.5 280.7V320.2M1438.6 284.7V319.5M1439.7 287V297.8M1440.8 289.5V304.8M1441.9 308.9V340M1443 314.4V334.1M1444.1 313.9V338.2M1445.2 334.7V351.7M1446.4 324.6V349.8M1447.5 326.4V356.1M1448.6 321.8V332.3M1449.7 315.8V323.3M1450.8 310.3V345.2M1451.9 317.3V357.3M1453 303V335.5M1454.1 284.3V312.9M1455.2 273.2V297.1M1456.3 272.7V293.7M1457.4 287.6V310.3M1458.6 304V354.1M1459.7 311.2V353.6M1460.8 276.6V307.7M1461.9 266.8V297.1M1463 266.2V289.4M1464.1 273.5V301.3M1465.2 278.4V323M1466.3 276V320.9M1467.4 285V331.4M1468.5 295.7V362.3M1469.7 305.5V394.1M1470.8 300.5V365.9M1471.9 287.8V354M1473 307.3V352.1M1474.1 309.7V349.4M1475.2 281.3V292.9M1476.3 280.8V287M1477.4 293.4V308.5M1478.5 294.2V324.9M1479.6 284V321.8M1480.7 283.4V338.7M1481.9 300V348.7M1483 293.7V354.8M1484.1 356V375.3M1485.2 367.3V383.1M1486.3 347.4V387.5M1487.4 367.8V387M1488.5 322V363.3M1489.6 316.9V362M1490.7 307.7V349M1491.8 328.4V344.7M1493 325.7V357.2M1494.1 319.1V358M1495.2 324.6V356.2M1496.3 329.5V365.9M1497.4 349.3V370.8M1498.5 336.4V358.2M1499.6 335.9V362.5M1500.7 350.5V375.8M1501.8 346V370.2M1502.9 326.8V366.1M1504 327.5V364.2M1505.2 335.3V373.1M1506.3 335.8V370M1507.4 298.4V340.5M1508.5 300.6V330.2M1509.6 311.2V345.9M1510.7 301.8V340.7M1511.8 301.3V341.7M1512.9 312.3V353.6M1514 317.8V359.2M1515.1 336.2V363M1516.3 321.8V347M1517.4 307.8V323.9M1518.5 316.2V331.5M1519.6 312.8V351.5M1520.7 301.6V322.2M1521.8 298.9V319.5M1522.9 304.7V334.1M1524 323.2V351M1525.1 331.6V352.7M1526.2 329.8V352.3M1527.3 311.5V337M1528.5 322.7V331.9M1529.6 324.7V347.9M1530.7 316.9V341.3M1531.8 316.5V338.1M1532.9 318V356.9M1534 327V370.4M1535.1 352.5V376.5M1536.2 362.8V388.2M1537.3 372.2V397.3M1538.4 356.3V388.3M1539.5 342.3V381.5M1540.7 339.8V378.3M1541.8 339.5V394.6M1542.9 375.6V402.3M1544 361.7V401.1M1545.1 354.9V373.1M1546.2 351.6V388.5M1547.3 349.3V379.4M1548.4 347.1V369.6M1549.5 334.8V365.1M1550.6 358.4V364.9M1551.8 319.6V356.3M1552.9 342V347.1M1554 343.1V354.9M1555.1 315.7V332.7M1556.2 304.1V336.7M1557.3 311.9V341.1M1558.4 311.9V337.6M1559.5 303.6V318M1560.6 319.2V331.4M1561.7 317.6V340.4M1562.8 303.2V310.8M1564 303V318.6M1565.1 315.3V327.5M1566.2 311.4V327M1567.3 306V323M1568.4 309.2V328.2M1569.5 315.7V330.5M1570.6 321.2V341.4M1571.7 328.7V342.8M1572.8 305.9V342.8M1573.9 278.1V323.9M1575.1 278.7V306.3M1576.2 300.5V325.1M1577.3 297V342M1578.4 318.8V349.2M1579.5 309.1V334M1580.6 305V327.2M1581.7 302.4V316M1582.8 302.5V314.1M1583.9 306.1V326.7M1585 312.5V333.8M1586.1 331.5V345.3M1587.3 336.5V361.6M1588.4 353.1V383.3M1589.5 342.3V387.5M1590.6 364.8V388.8M1591.7 352.6V380.6M1592.8 342V362.4M1593.9 332.5V373.9M1595 319.7V350.5M1596.1 339.5V350.5M1597.2 321.5V335.9M1598.4 317V341.1M1599.5 321.1V360.6M1600.6 336.3V373.9M1601.7 354.1V383.9M1602.8 349.3V384.1M1603.9 353.6V383.4M1605 375.1V391M1606.1 368.6V384.2M1607.2 357.6V379.6M1608.3 363V388.9M1609.4 360.7V395M1610.6 367.3V395.5M1611.7 334.3V363.4M1612.8 323.3V366.5M1613.9 313.3V370.3M1615 289.8V323.6M1616.1 288.5V308.3M1617.2 288.8V309.2M1618.3 299.2V322.2M1619.4 318.3V356M1620.5 329.7V375.3M1621.7 338.5V379.6M1622.8 351.1V382.7M1623.9 366.2V383.1M1625 330.1V348.1M1626.1 370V377.4M1627.2 369.6V377.7M1628.3 335.3V368.4M1629.4 322.6V355.9M1630.5 317.5V332.1M1631.6 328.6V359.9M1632.7 333V356.8M1633.9 330.1V346.7M1635 339.2V357.2M1636.1 342.6V358.3M1637.2 340.2V358.8M1638.3 330.2V350.9M1639.4 296.9V340.7M1640.5 269.5V328.2M1641.6 269.9V304.3M1642.7 280.1V320.1M1643.8 301.1V323.4M1645 295.7V310.9M1646.1 299V347M1647.2 315V345.6M1648.3 316.6V352.3M1649.4 338V365.5M1650.5 327.6V366M1651.6 305.3V363.8M1652.7 278.9V354.1M1653.8 252.5V336.4M1654.9 250.5V272.6M1656 249.9V276.9M1657.2 252.7V275.8M1658.3 249.8V266.2M1659.4 250.3V268.2M1660.5 254.2V273.7M1661.6 254.6V307.8M1662.7 278V317.6M1663.8 314.1V341.5M1664.9 299.8V333.6M1666 294.2V349M1667.1 321.9V355.8M1668.3 336.9V364.6M1669.4 344.6V374.2M1670.5 344.3V377.1M1671.6 341V377.7M1672.7 323.8V361M1673.8 312.5V355.7M1674.9 313V322.4M1676 313.6V357.2M1677.1 358.3V393.4M1678.2 378.8V393.9M1679.3 357.5V394.5M1680.5 357.9V378.1M1681.6 366.9V376.6M1682.7 366.8V383.2M1683.8 332.4V401.5M1684.9 344.3V384.8M1686 387.5V407.5M1687.1 289.9V381.7M1688.2 290.4V345.2M1689.3 296V359.9M1690.4 304.9V364.4M1691.6 300.9V321.7M1692.7 286.1V295.3M1693.8 286.6V292.1M1694.9 300.6V320.1M1696 308.6V324.8M1697.1 294.9V322.4M1698.2 301.7V322.5M1699.3 313.7V336.2M1700.4 304.3V319.7M1701.5 296.8V317.5M1702.6 301.9V332.1M1703.8 310.4V351.2M1704.9 298.4V324.7M1706 298.9V321.4M1707.1 313.5V331.1M1708.2 303.3V319.7M1709.3 307.2V317.5M1710.4 306.6V311.7M1711.5 301.3V331.4M1712.6 329.8V335.8M1713.7 279.6V308.4M1714.9 280V358.9M1716 339.2V369M1717.1 310V368.9M1718.2 329.9V373.7M1719.3 349.8V363.2M1720.4 330.9V351.9M1721.5 333.9V368.5M1722.6 340.8V363.3M1723.7 323.8V362.8M1724.8 297V349.6M1725.9 297.4V340.7M1727.1 309V338.1M1728.2 304.1V314.4M1729.3 308V326.6" fill="none" stroke="#1f77b4" stroke-width="2.15" stroke-linecap="round"/><path d="M1045.8 25.9V116.4" stroke="#1f77b4" stroke-width="3.6" stroke-linecap="round"/><path d="M1047.5 164.9V283.5" stroke="#1f77b4" stroke-width="2.5" stroke-linecap="round"/><path d="M1047.8 280.2V322.7" stroke="#1f77b4" stroke-width="3.6" stroke-linecap="round"/><path d="M1035.2 230.2V333.2" stroke="#1f77b4" stroke-width="2.8" stroke-linecap="round"/><path d="M1029.6 282.7V330.6" stroke="#1f77b4" stroke-width="2.6" stroke-linecap="round"/><path d="M1122.2 187.1V342.8" stroke="#1f77b4" stroke-width="2.8" stroke-linecap="round"/><path d="M1245.8 229.4V317.9" stroke="#1f77b4" stroke-width="2.7" stroke-linecap="round"/><path d="M1463.2 116.9V179" stroke="#1f77b4" stroke-width="2.7" stroke-linecap="round"/><path d="M1464 183.8V317.5" stroke="#1f77b4" stroke-width="3.6" stroke-linecap="round"/><path d="M1656 154.2V253.2" stroke="#1f77b4" stroke-width="3.6" stroke-linecap="round"/><path d="M1658 253.6V301.4" stroke="#1f77b4" stroke-width="5.0" stroke-linecap="round"/><path d="M1702.4 240.1V313.1" stroke="#1f77b4" stroke-width="2.4" stroke-linecap="round"/><path d="M1711 254.7V317" stroke="#1f77b4" stroke-width="2.4" stroke-linecap="round"/><path d="M985.4 301.8V339.6" stroke="#1f77b4" stroke-width="3.2" stroke-linecap="round"/><path d="M989.3 277.8V343" stroke="#1f77b4" stroke-width="4.6" stroke-linecap="round"/><path d="M1374.1 274.2V333.7" stroke="#1f77b4" stroke-width="2.3" stroke-linecap="round"/><path d="M1425.8 259.8V319.2" stroke="#1f77b4" stroke-width="2.3" stroke-linecap="round"/><path d="M1693.9 307.4V338.7" stroke="#1f77b4" stroke-width="4.5" stroke-linecap="round"/><path d="M1698.4 307.6V338.8" stroke="#1f77b4" stroke-width="4.5" stroke-linecap="round"/><path d="M1727.2 300.7V328.4" stroke="#1f77b4" stroke-width="3.6" stroke-linecap="round"/><path d="M1044.5 118.4h0M1044.3 121.7h0M1044.3 124.8h0M1044.5 127.9h0M1044.5 131h0M1044.3 134.3h0M1044.4 137.4h0M1044.4 140.5h0M1044.3 143.7h0M1044.4 146.8h0M1044.4 150h0M1044.3 153.2h0M1044.3 156.3h0M1044.3 159.5h0M1044.3 162.6h0M1044.3 165.8h0M1044.4 168.9h0M1044.5 172h0M1044.3 175.2h0M1044.5 178.3h0M1044.5 181.5h0M1044.4 184.7h0M1044.4 187.8h0M1044.3 191h0M1044.5 194h0M1044.4 197.2h0M1044.3 200.5h0M1044.3 203.6h0M1044.5 206.7h0M1044.4 209.9h0M1044.5 213h0M1044.3 216.2h0M1044.5 219.3h0M1044.5 222.4h0M1044.3 225.7h0M1044.4 228.8h0M1044.3 232h0M1044.5 235h0M1044.5 238.2h0M1044.5 241.3h0M1044.3 244.6h0M1044.3 247.7h0M1044.4 250.8h0M1044.4 254h0M1044.3 257.2h0M1044.3 260.3h0M1044.4 263.4h0M1044.3 266.6h0M1044.4 269.7h0M1044.3 272.9h0M1044.3 276.1h0M1044.4 279.2h0M1044.4 282.3h0M1044.5 285.5h0M1044.3 288.7h0M1044.5 291.8h0M1044.3 280h0M1044.3 281.6h0M1044.5 283.1h0M1044.5 284.7h0M1044.4 286.3h0M1044.6 287.8h0M1044.3 289.5h0M1044.3 291h0M1044.5 292.5h0M1044.3 294.2h0M1044.3 295.8h0M1044.3 297.3h0M1044.5 298.8h0M1044.5 300.4h0M1044.5 302h0M1044.6 303.5h0M1044.5 305.1h0M1044.3 306.8h0M1044.3 308.4h0M1044.5 309.9h0M1044.2 311.6h0M1044.4 313h0M1044.2 314.7h0M1044.2 316.3h0M1044.4 317.8h0M1044.3 319.4h0M1044.6 320.9h0M1044.6 322.4h0M1044.4 324.1h0M1028.8 259.1h0M1028.8 264h0M1245.8 212.5h0M1245.8 218.4h0M984.4 287.5h0M1655.1 67h0M1655.1 70h0M1655.1 73.1h0M1655.1 76.1h0M1655.1 79.2h0M1655.1 82.2h0M1655.1 85.3h0M1655.1 88.3h0M1655.1 91.4h0M1655.1 94.4h0M1655.1 97.5h0M1655.1 99.2h0M1655.1 100.7h0M1655.1 102.3h0M1655.1 103.9h0M1655.1 105.5h0M1655.1 107h0M1655.1 108.6h0M1655.1 110.2h0M1655.1 111.8h0M1655.1 113.3h0M1655.1 114.9h0M1655.1 116.5h0M1655.1 118.1h0M1655.1 120.8h0M1655.1 123.8h0M1655.1 126.7h0M1655.1 129.7h0M1655.1 132.6h0M1655.1 135.6h0M1655.1 138.6h0M1655.1 141.5h0M1655.1 144.5h0M1655.1 147.4h0M1655.1 150.4h0M1715.6 259.9h0M1715.6 262.1h0M1715.6 264.2h0M1715.6 266.4h0M1715.6 268.6h0M1715.6 270.7h0M1715.6 272.9h0M1715.6 275.1h0M1715.6 277.2h0M1715.6 279.4h0M1715.6 281.6h0M1715.6 283.7h0M1715.6 285.9h0M1715.6 288.1h0M1715.6 290.2h0M1715.6 292.4h0M1715.6 294.6h0M1715.6 296.7h0M1715.6 298.9h0M1703.9 355.2h0M1703.9 364.1h0M1703.9 372.9h0M1703.9 384.7h0M1703.9 391.6h0M1703.9 395.6h0M1703.9 399.5h0M1703.9 407.4h0M1703.9 416.3h0M1703.9 428.1h0M1724.6 386.6h0M1724.6 393.5h0M1724.6 400.3h0M1724.6 409.2h0M1724.6 417.1h0M1724.6 425h0M1724.6 431.9h0M1724.6 438.8h0M1724.6 445.6h0M1724.6 449.6h0M1724.6 453.5h0M1724.6 457.5h0M1724.6 459.4h0M1719.7 391.6h0M1719.7 400.4h0M1719.7 413.2h0M1719.7 422.1h0M1590.7 303.8h0M1590.7 307.3h0" stroke="#1f77b4" stroke-width="2.5" stroke-linecap="round" fill="none"/></g><g stroke="#000" stroke-width="0.3"><rect x="60.2" y="5.4" width="819" height="480.5" fill="none" stroke="#1a1a1a" stroke-width="1.15"/><text x="51.2" y="483.6" text-anchor="end">55</text><text x="51.2" y="415.9" text-anchor="end">60</text><text x="51.2" y="348.2" text-anchor="end">65</text><text x="51.2" y="280.4" text-anchor="end">70</text><text x="51.2" y="212.8" text-anchor="end">75</text><text x="51.2" y="145.1" text-anchor="end">80</text><text x="51.2" y="77.4" text-anchor="end">85</text><text transform="translate(76.5 534.2) rotate(-70)" text-anchor="middle" y="6.4">2022-01</text><text transform="translate(176.4 534.2) rotate(-70)" text-anchor="middle" y="6.4">2022-04</text><text transform="translate(277.3 534.2) rotate(-70)" text-anchor="middle" y="6.4">2022-07</text><text transform="translate(379.4 534.2) rotate(-70)" text-anchor="middle" y="6.4">2022-10</text><text transform="translate(481.5 534.2) rotate(-70)" text-anchor="middle" y="6.4">2023-01</text><text transform="translate(581.3 534.2) rotate(-70)" text-anchor="middle" y="6.4">2023-04</text><text transform="translate(682.3 534.2) rotate(-70)" text-anchor="middle" y="6.4">2023-07</text><text transform="translate(784.4 534.2) rotate(-70)" text-anchor="middle" y="6.4">2023-10</text><path d="M60.2 477.4h-3.9M60.2 409.7h-3.9M60.2 342h-3.9M60.2 274.2h-3.9M60.2 206.6h-3.9M60.2 138.9h-3.9M60.2 71.2h-3.9M77.2 485.9v3.9M177.1 485.9v3.9M278 485.9v3.9M380.1 485.9v3.9M482.2 485.9v3.9M582 485.9v3.9M683 485.9v3.9M785.1 485.9v3.9" stroke="#1a1a1a" stroke-width="1.05" fill="none"/><text transform="translate(18.9 245.8) rotate(-90)" text-anchor="middle">Sleep HR [1/min]</text><rect x="947.6" y="5.4" width="818" height="480.5" fill="none" stroke="#1a1a1a" stroke-width="1.15"/><text x="938.6" y="462.8" text-anchor="end">55</text><text x="938.6" y="396.1" text-anchor="end">60</text><text x="938.6" y="329.5" text-anchor="end">65</text><text x="938.6" y="262.8" text-anchor="end">70</text><text x="938.6" y="196.1" text-anchor="end">75</text><text x="938.6" y="129.5" text-anchor="end">80</text><text x="938.6" y="62.8" text-anchor="end">85</text><text transform="translate(963.9 534.2) rotate(-70)" text-anchor="middle" y="6.4">2022-01</text><text transform="translate(1063.8 534.2) rotate(-70)" text-anchor="middle" y="6.4">2022-04</text><text transform="translate(1164.7 534.2) rotate(-70)" text-anchor="middle" y="6.4">2022-07</text><text transform="translate(1266.8 534.2) rotate(-70)" text-anchor="middle" y="6.4">2022-10</text><text transform="translate(1368.9 534.2) rotate(-70)" text-anchor="middle" y="6.4">2023-01</text><text transform="translate(1468.7 534.2) rotate(-70)" text-anchor="middle" y="6.4">2023-04</text><text transform="translate(1569.7 534.2) rotate(-70)" text-anchor="middle" y="6.4">2023-07</text><text transform="translate(1671.8 534.2) rotate(-70)" text-anchor="middle" y="6.4">2023-10</text><path d="M947.6 456.6h-3.9M947.6 389.9h-3.9M947.6 323.3h-3.9M947.6 256.6h-3.9M947.6 189.9h-3.9M947.6 123.3h-3.9M947.6 56.6h-3.9M964.6 485.9v3.9M1064.5 485.9v3.9M1165.4 485.9v3.9M1267.5 485.9v3.9M1369.6 485.9v3.9M1469.4 485.9v3.9M1570.4 485.9v3.9M1672.5 485.9v3.9" stroke="#1a1a1a" stroke-width="1.05" fill="none"/><text transform="translate(905.9 245.8) rotate(-90)" text-anchor="middle">Sleep HR detrended [1/min]</text></g></svg></body></html>
